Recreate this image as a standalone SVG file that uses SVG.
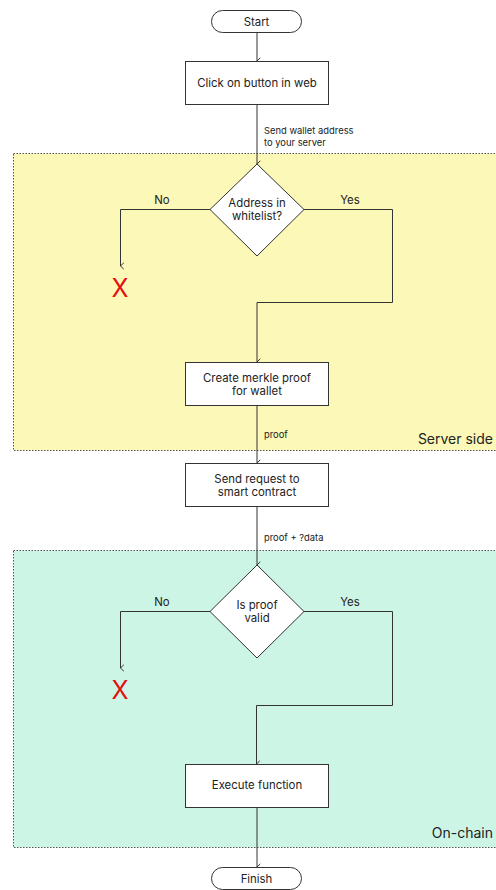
<svg xmlns="http://www.w3.org/2000/svg" width="496" height="890" viewBox="0 0 496 890">
  <style>
    text { font-family: Inter, "Liberation Sans", sans-serif; fill: #222; }
    .node { fill: #fff; stroke: #333; stroke-width: 1; }
    .lbl { font-size: 11.4px; text-anchor: middle; }
    .edge { fill: none; stroke: #333; stroke-width: 1; }
    .elbl { font-size: 9.4px; }
    .branch { font-size: 11.4px; text-anchor: middle; }
    .zone { stroke: #555; stroke-width: 1; stroke-dasharray: 1.5 1.5; }
    .zlbl { font-size: 14px; text-anchor: end; }
    .stop { font-size: 25px; fill: #e41010; text-anchor: middle; }
  </style>
  <defs>
    <marker id="arr" viewBox="0 0 8 8" refX="4" refY="7.5" markerWidth="8" markerHeight="8" orient="auto-start-reverse" markerUnits="userSpaceOnUse">
      <path d="M0.8 4.2 L4 7.5 L7.2 4.2" fill="none" stroke="#333" stroke-width="1"/>
    </marker>
  </defs>

  <!-- swimlane zones -->
  <g id="zone-server">
    <rect class="zone" x="13.5" y="153.5" width="490" height="297" fill="#fcf8b8"/>
    <text class="zlbl" x="493" y="444">Server side</text>
  </g>
  <g id="zone-onchain">
    <rect class="zone" x="13.5" y="550.5" width="490" height="297" fill="#cdf5e6"/>
    <text class="zlbl" x="493" y="838">On-chain</text>
  </g>

  <!-- connectors -->
  <g id="connectors">
    <path class="edge" d="M257 32 V61" marker-end="url(#arr)"/>
    <path class="edge" d="M257 104 V164" marker-end="url(#arr)"/>
    <text class="elbl" x="264" y="134">Send wallet address</text>
    <text class="elbl" x="264" y="146">to your server</text>

    <path class="edge" d="M210 209.5 H120.5 V266" marker-end="url(#arr)"/>
    <text class="branch" x="162" y="204">No</text>
    <path class="edge" d="M304 209.5 H392.5 V302.5 H257 V362" marker-end="url(#arr)"/>
    <text class="branch" x="350" y="204">Yes</text>

    <path class="edge" d="M257 406 V463" marker-end="url(#arr)"/>
    <text class="elbl" x="264" y="438">proof</text>

    <path class="edge" d="M257 507 V565" marker-end="url(#arr)"/>
    <text class="elbl" x="264" y="541">proof + ?data</text>

    <path class="edge" d="M210 611.5 H120.5 V668" marker-end="url(#arr)"/>
    <text class="branch" x="162" y="606">No</text>
    <path class="edge" d="M304 611.5 H392.5 V705.5 H256.5 V764" marker-end="url(#arr)"/>
    <text class="branch" x="350" y="606">Yes</text>

    <path class="edge" d="M257 808 V867" marker-end="url(#arr)"/>
  </g>

  <!-- nodes -->
  <g id="start">
    <rect class="node" x="211.5" y="10.5" width="90" height="22" rx="11"/>
    <text class="lbl" x="256.5" y="25.5">Start</text>
  </g>
  <g id="click-button">
    <rect class="node" x="185.5" y="61.5" width="143" height="43"/>
    <text class="lbl" x="257" y="87">Click on button in web</text>
  </g>
  <g id="whitelist-check">
    <polygon class="node" points="257,164 304,209.5 257,256 210,209.5"/>
    <text class="lbl" x="257" y="207">Address in</text>
    <text class="lbl" x="257" y="220">whitelist?</text>
  </g>
  <g id="reject-1">
    <text class="stop" x="120" y="297">X</text>
  </g>
  <g id="merkle-proof">
    <rect class="node" x="185.5" y="362.5" width="143" height="43"/>
    <text class="lbl" x="257" y="382">Create merkle proof</text>
    <text class="lbl" x="257" y="395">for wallet</text>
  </g>
  <g id="send-request">
    <rect class="node" x="185.5" y="463.5" width="143" height="43"/>
    <text class="lbl" x="257" y="483">Send request to</text>
    <text class="lbl" x="257" y="496">smart contract</text>
  </g>
  <g id="proof-check">
    <polygon class="node" points="257,565 304,611.5 257,658 210,611.5"/>
    <text class="lbl" x="257" y="609">Is proof</text>
    <text class="lbl" x="257" y="622">valid</text>
  </g>
  <g id="reject-2">
    <text class="stop" x="120" y="699">X</text>
  </g>
  <g id="execute">
    <rect class="node" x="185.5" y="764.5" width="143" height="43"/>
    <text class="lbl" x="257" y="789">Execute function</text>
  </g>
  <g id="finish">
    <rect class="node" x="211.5" y="867.5" width="90" height="22" rx="11"/>
    <text class="lbl" x="256.5" y="882.5">Finish</text>
  </g>
</svg>
